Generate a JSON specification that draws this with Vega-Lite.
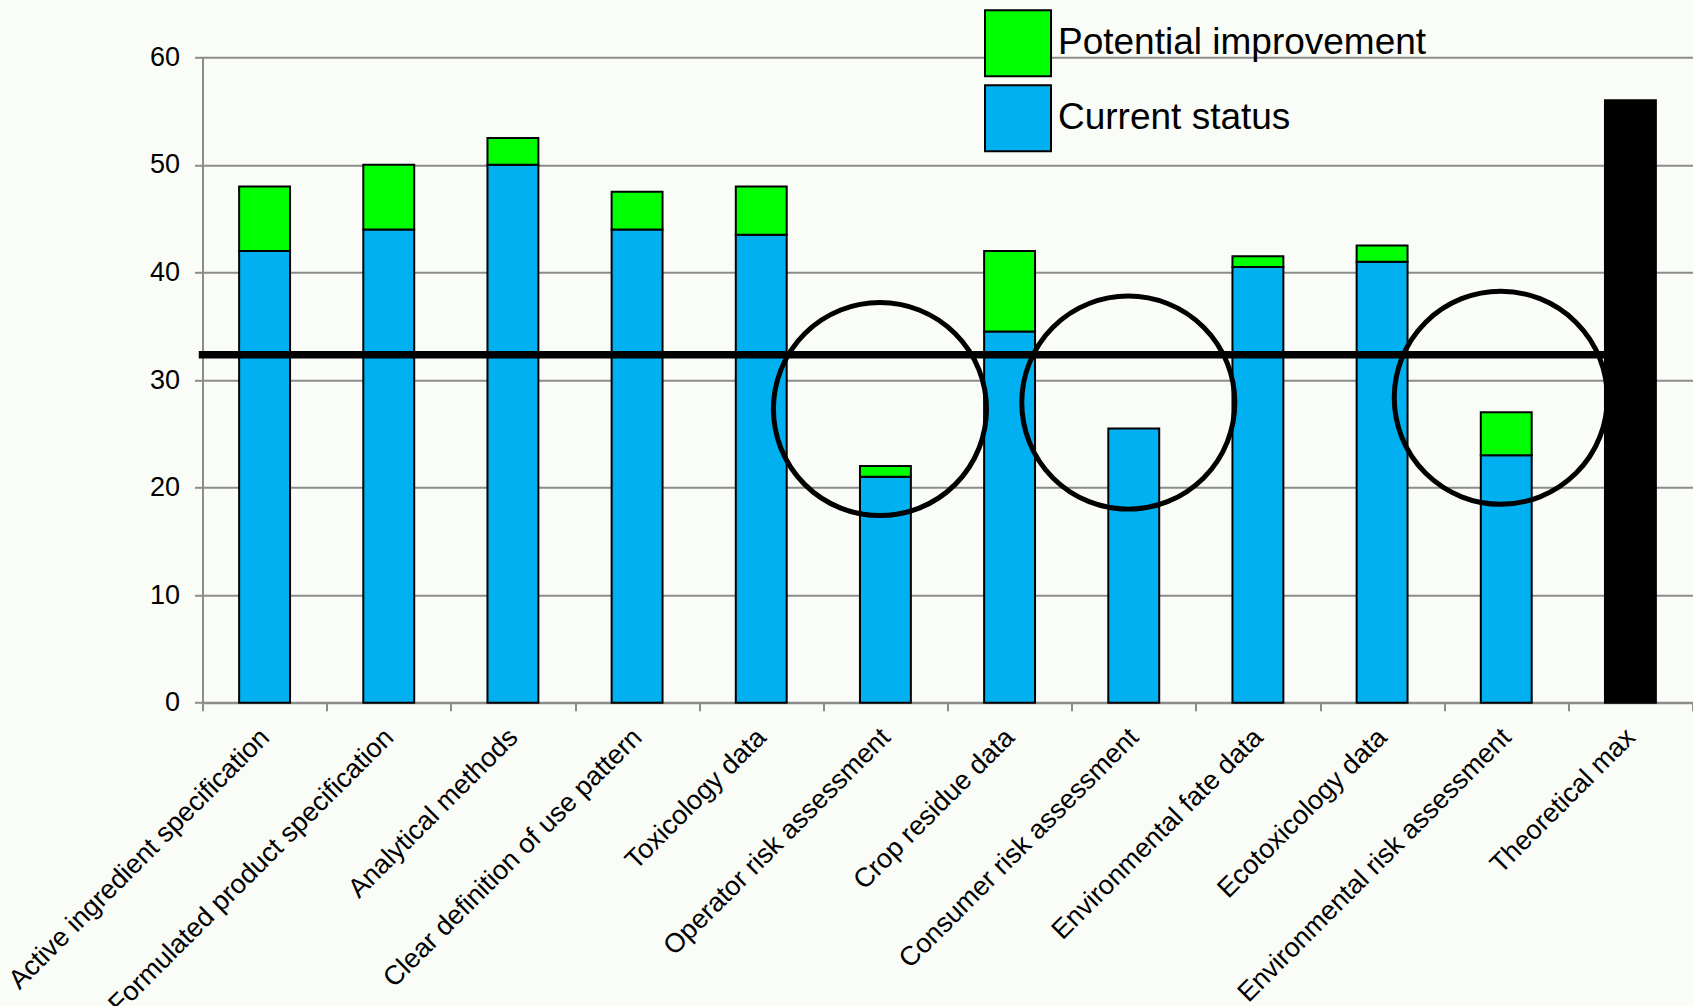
{
  "$schema": "https://vega.github.io/schema/vega-lite/v6.json",
  "width": 1490,
  "height": 645.4,
  "autosize": "none",
  "padding": {"left": 202.5, "top": 57.3, "right": 0, "bottom": 303.3},
  "background": "#fafcf7",
  "config": {"view": {"stroke": null}, "font": "Liberation Sans"},
  "datasets": {
    "scores": [
      {"item": "Active ingredient specification", "series": "Current status", "rank": 1, "value": 42},
      {"item": "Active ingredient specification", "series": "Potential improvement", "rank": 2, "value": 6},
      {"item": "Formulated product specification", "series": "Current status", "rank": 1, "value": 44},
      {"item": "Formulated product specification", "series": "Potential improvement", "rank": 2, "value": 6},
      {"item": "Analytical methods", "series": "Current status", "rank": 1, "value": 50},
      {"item": "Analytical methods", "series": "Potential improvement", "rank": 2, "value": 2.5},
      {"item": "Clear definition of use pattern", "series": "Current status", "rank": 1, "value": 44},
      {"item": "Clear definition of use pattern", "series": "Potential improvement", "rank": 2, "value": 3.5},
      {"item": "Toxicology data", "series": "Current status", "rank": 1, "value": 43.5},
      {"item": "Toxicology data", "series": "Potential improvement", "rank": 2, "value": 4.5},
      {"item": "Operator risk assessment", "series": "Current status", "rank": 1, "value": 21},
      {"item": "Operator risk assessment", "series": "Potential improvement", "rank": 2, "value": 1},
      {"item": "Crop residue data", "series": "Current status", "rank": 1, "value": 34.5},
      {"item": "Crop residue data", "series": "Potential improvement", "rank": 2, "value": 7.5},
      {"item": "Consumer risk assessment", "series": "Current status", "rank": 1, "value": 25.5},
      {"item": "Environmental fate data", "series": "Current status", "rank": 1, "value": 40.5},
      {"item": "Environmental fate data", "series": "Potential improvement", "rank": 2, "value": 1},
      {"item": "Ecotoxicology data", "series": "Current status", "rank": 1, "value": 41},
      {"item": "Ecotoxicology data", "series": "Potential improvement", "rank": 2, "value": 1.5},
      {"item": "Environmental risk assessment", "series": "Current status", "rank": 1, "value": 23},
      {"item": "Environmental risk assessment", "series": "Potential improvement", "rank": 2, "value": 4},
      {"item": "Theoretical max", "series": "Theoretical max", "rank": 1, "value": 56}
    ],
    "threshold": [
      {"level": 32.35, "from": "Active ingredient specification", "to": "Theoretical max"}
    ],
    "highlights": [
      {"item": "Operator risk assessment", "center": 27.3},
      {"item": "Consumer risk assessment", "center": 27.9},
      {"item": "Environmental risk assessment", "center": 28.35}
    ]
  },
  "layer": [
    {
      "data": {"name": "scores"},
      "mark": {"type": "bar", "width": {"band": 0.41}, "stroke": "black", "strokeWidth": 2},
      "encoding": {
        "x": {
          "field": "item",
          "type": "nominal",
          "sort": null,
          "scale": {
            "domain": ["Active ingredient specification", "Formulated product specification", "Analytical methods", "Clear definition of use pattern", "Toxicology data", "Operator risk assessment", "Crop residue data", "Consumer risk assessment", "Environmental fate data", "Ecotoxicology data", "Environmental risk assessment", "Theoretical max"],
            "paddingInner": 0,
            "paddingOuter": 0
          },
          "axis": {
            "title": null,
            "grid": false,
            "tickBand": "extent",
            "labelAngle": -45,
            "labelFontSize": 27,
            "labelColor": "black",
            "labelLimit": 1000,
            "labelPadding": 13,
            "labelOffset": -9,
            "tickSize": 8,
            "tickColor": "#8c8c8c",
            "tickWidth": 2,
            "domainColor": "#8c8c8c",
            "domainWidth": 2
          }
        },
        "y": {
          "field": "value",
          "type": "quantitative",
          "stack": "zero",
          "scale": {"domain": [0, 60], "nice": false},
          "axis": {
            "title": null,
            "values": [0, 10, 20, 30, 40, 50, 60],
            "grid": true,
            "gridColor": "#8c8c8c",
            "gridWidth": 2,
            "domainColor": "#8c8c8c",
            "domainWidth": 2,
            "tickColor": "#8c8c8c",
            "tickWidth": 2,
            "tickSize": 8,
            "labelFontSize": 27,
            "labelColor": "black",
            "labelPadding": 15
          }
        },
        "color": {
          "field": "series",
          "type": "nominal",
          "scale": {
            "domain": ["Potential improvement", "Current status", "Theoretical max"],
            "range": ["#00ff00", "#00b0f0", "#000000"]
          },
          "legend": {
            "values": ["Potential improvement", "Current status"],
            "orient": "none",
            "legendX": 781.5,
            "legendY": -48,
            "title": null,
            "padding": 0,
            "symbolType": "square",
            "symbolSize": 4356,
            "symbolStrokeColor": "black",
            "symbolStrokeWidth": 2,
            "symbolOpacity": 1,
            "labelFontSize": 37,
            "labelColor": "black",
            "labelOffset": 6,
            "labelLimit": 1000,
            "rowPadding": 1
          }
        },
        "order": {"field": "rank", "type": "quantitative"}
      }
    },
    {
      "data": {"name": "threshold"},
      "mark": {"type": "rule", "color": "black", "strokeWidth": 7.5, "strokeCap": "square"},
      "encoding": {
        "y": {"field": "level", "type": "quantitative"},
        "x": {
          "field": "from",
          "type": "nominal",
          "bandPosition": 0,
          "scale": {"domain": ["Active ingredient specification", "Formulated product specification", "Analytical methods", "Clear definition of use pattern", "Toxicology data", "Operator risk assessment", "Crop residue data", "Consumer risk assessment", "Environmental fate data", "Ecotoxicology data", "Environmental risk assessment", "Theoretical max"]}
        },
        "x2": {"field": "to", "bandPosition": 0.295}
      }
    },
    {
      "data": {"name": "highlights"},
      "mark": {"type": "point", "shape": "circle", "filled": false, "stroke": "black", "strokeWidth": 5, "size": 45400, "opacity": 1},
      "encoding": {
        "x": {
          "field": "item",
          "type": "nominal",
          "bandPosition": 0.456,
          "scale": {"domain": ["Active ingredient specification", "Formulated product specification", "Analytical methods", "Clear definition of use pattern", "Toxicology data", "Operator risk assessment", "Crop residue data", "Consumer risk assessment", "Environmental fate data", "Ecotoxicology data", "Environmental risk assessment", "Theoretical max"]}
        },
        "y": {"field": "center", "type": "quantitative"}
      }
    }
  ]
}
